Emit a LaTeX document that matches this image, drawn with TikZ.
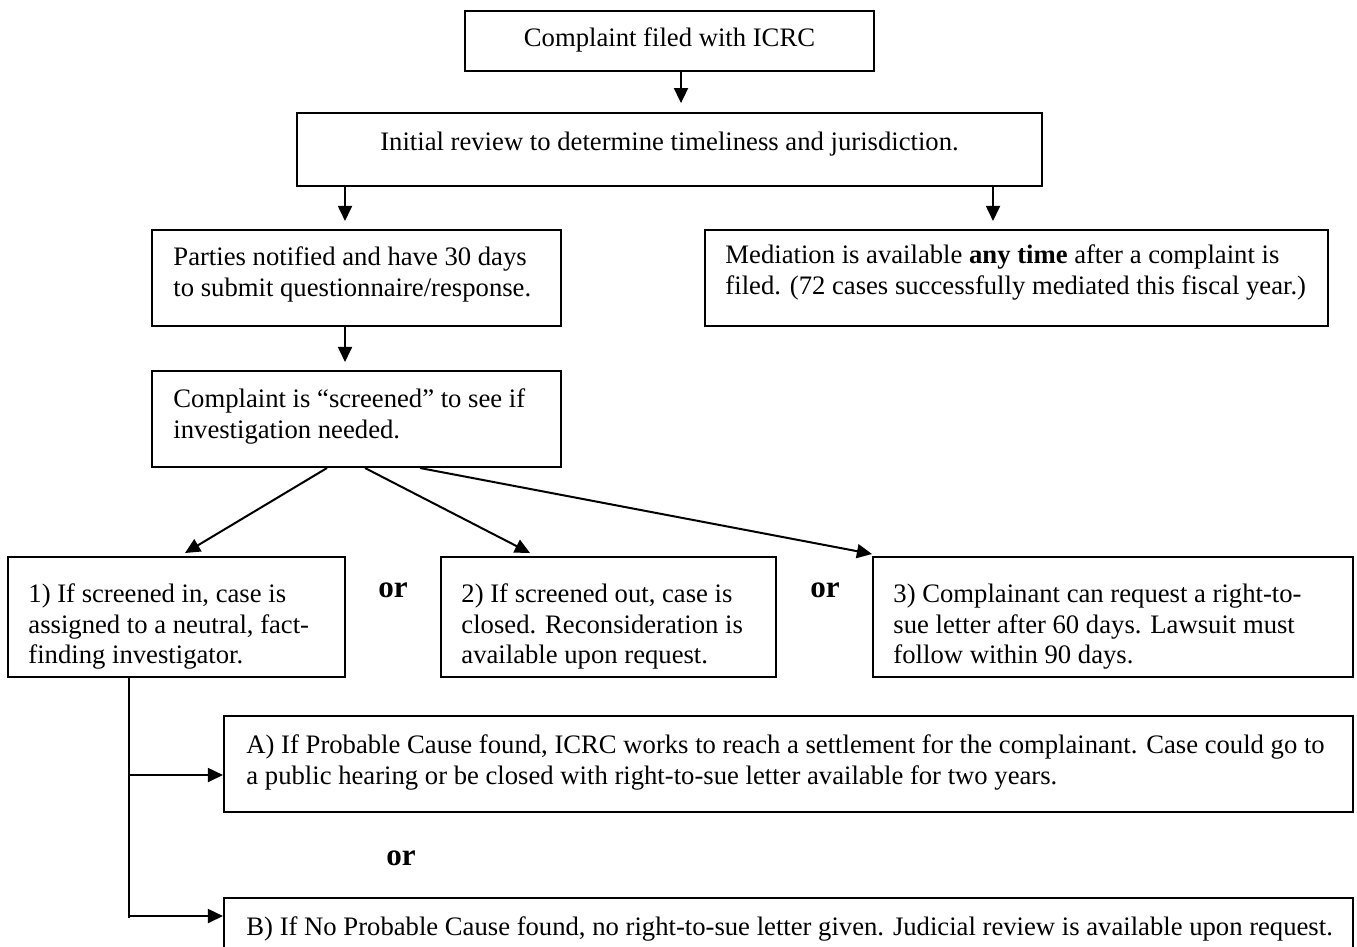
\documentclass[tikz,border=0pt]{standalone}
\usepackage{fontspec}
\setmainfont{Liberation Serif}
\usetikzlibrary{arrows.meta,fit}
\begin{document}
\begin{tikzpicture}[x=0.45pt,y=-0.45pt,
  box/.style={draw,line width=0.9pt,inner sep=0pt},
  txt/.style={inner sep=0pt,anchor=north west,align=left,font=\fontsize{12}{13.8}\selectfont},
  ctxt/.style={inner sep=0pt,anchor=base,font=\fontsize{12}{13.8}\selectfont},
  ltxt/.style={inner sep=0pt,anchor=base west,font=\fontsize{12}{13.8}\selectfont},
  ortxt/.style={inner sep=0pt,anchor=base,font=\fontsize{14}{16}\selectfont\bfseries},
  arr/.style={line width=0.9pt,-{Triangle[length=6.8pt,width=6.3pt]}},
  ln/.style={line width=0.9pt}]
\clip (0,0) rectangle (1357,946);
% boxes
\node[box,fit={(465,11) (874,71)}] (b1) {};
\node[box,fit={(297,113) (1042,186)}] (b2) {};
\node[box,fit={(152,230) (561,326)}] (b3) {};
\node[box,fit={(705,230) (1328,326)}] (b4) {};
\node[box,fit={(152,371) (561,467)}] (b5) {};
\node[box,fit={(8,557) (345,677)}] (b6) {};
\node[box,fit={(441,557) (776,677)}] (b7) {};
\node[box,fit={(873,557) (1353,677)}] (b8) {};
\node[box,fit={(224,716) (1353,812)}] (bA) {};
\node[box,fit={(224,898) (1353,962)}] (bB) {};
% texts
\node[ctxt] (t1) at (669.5,46) {Complaint filed with ICRC};
\node[ctxt] (t2) at (669.5,150) {Initial review to determine timeliness and jurisdiction.};
\node[txt] (t3) at (173,243.5) {\strut Parties notified and have 30 days\\to submit questionnaire/response.};
\node[txt] (t4) at (725,242) {\strut Mediation is available \textbf{any time} after a complaint is\\filed. (72 cases successfully mediated this fiscal year.)};
\node[txt] (t5) at (173,385.5) {\strut Complaint is “screened” to see if\\investigation needed.};
\node[txt] (t6) at (28,580.5) {\strut 1) If screened in, case is\\assigned to a neutral, fact-\\finding investigator.};
\node[txt] (t7) at (461,580.5) {\strut 2) If screened out, case is\\closed. Reconsideration is\\available upon request.};
\node[txt] (t8) at (893,580.5) {\strut 3) Complainant can request a right-to-\\sue letter after 60 days. Lawsuit must\\follow within 90 days.};
\node[txt] (tA) at (246,731.5) {\strut A) If Probable Cause found, ICRC works to reach a settlement for the complainant. Case could go to\\a public hearing or be closed with right-to-sue letter available for two years.};
\node[ltxt] (tB) at (246,935) {B) If No Probable Cause found, no right-to-sue letter given. Judicial review is available upon request.};
\node[ortxt] (o1) at (393,597) {or};
\node[ortxt] (o2) at (825,597) {or};
\node[ortxt] (o3) at (401,865) {or};
% coordinates
\coordinate (x681) at (681,0);
\coordinate (x345) at (345,0);
\coordinate (x993) at (993,0);
\coordinate (x327) at (327,0);
\coordinate (x365) at (365,0);
\coordinate (x420) at (420,0);
\coordinate (x129) at (129,0);
\coordinate (e6) at (185,553);
\coordinate (e7) at (530,553);
\coordinate (e8) at (872,554);
\coordinate (vend) at (129,918);
\coordinate (jA) at (129,775);
\coordinate (jB) at (129,916);
% connectors
\draw[arr,shorten >=4pt] (b1.south -| x681) -- (b2.north -| x681);
\draw[arr,shorten >=3.6pt] (b2.south -| x345) -- (b3.north -| x345);
\draw[arr,shorten >=3.6pt] (b2.south -| x993) -- (b4.north -| x993);
\draw[arr,shorten >=3.6pt] (b3.south -| x345) -- (b5.north -| x345);
\draw[arr] (b5.south -| x327) -- (e6);
\draw[arr] (b5.south -| x365) -- (e7);
\draw[arr] (b5.south -| x420) -- (e8);
\draw[ln] (b6.south -| x129) -- (vend);
\draw[arr] (jA) -- (bA.west |- jA);
\draw[arr] (jB) -- (bB.west |- jB);
\end{tikzpicture}
\end{document}
